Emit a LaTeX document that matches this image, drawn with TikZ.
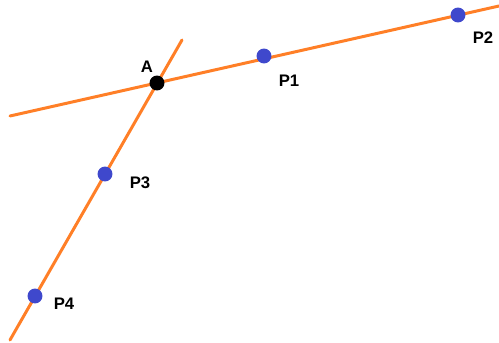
\documentclass[tikz,border=0pt]{standalone}
\usepackage{fontspec}
\setmainfont{Liberation Sans}
\usepackage{tikz}

\begin{document}
\begin{tikzpicture}[x=0.2mm, y=-0.2mm]

% Colori
\definecolor{colLine}{HTML}{FF7F27}
\definecolor{colPt}{HTML}{3F48CC}

\tikzset{
  retta/.style={colLine, line width=1.7pt, line cap=round},
  punto/.style={circle, fill=colPt, inner sep=0pt, minimum size=8.5pt},
  puntoA/.style={circle, fill=black, inner sep=0pt, minimum size=8.5pt},
  etich/.style={font=\fontsize{9.5}{11}\selectfont\bfseries, inner sep=0pt}
}

% Area
\useasboundingbox (0,0) rectangle (499,343);

% Estremi delle rette
\coordinate (R1a) at (10,116);
\coordinate (R1b) at (499,6);
\coordinate (R2a) at (182,40);
\coordinate (R2b) at (10,340);

% Rette
\draw[retta] (R1a) -- (R1b);
\draw[retta] (R2a) -- (R2b);

% Punti
\node[puntoA] (A) at (157,83) {};
\node[punto] (P1) at (264,56) {};
\node[punto] (P2) at (458,15) {};
\node[punto] (P3) at (105,174) {};
\node[punto] (P4) at (35,296) {};

% Etichette
\node[etich] (lA) at (147,67) {A};
\node[etich] (lP1) at (289,81) {P1};
\node[etich] (lP2) at (483,38) {P2};
\node[etich] (lP3) at (140,183) {P3};
\node[etich] (lP4) at (64,304) {P4};

\end{tikzpicture}
\end{document}
